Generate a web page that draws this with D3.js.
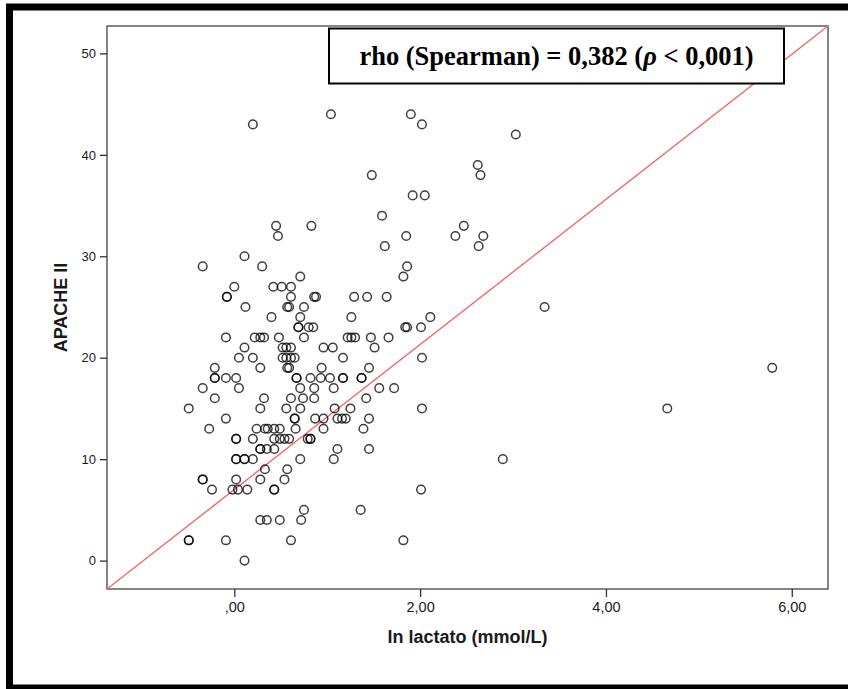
<!DOCTYPE html>
<html>
<head>
<meta charset="utf-8">
<script src="https://cdn.jsdelivr.net/npm/d3@7"></script>
<style>
    body { margin: 0; background: #fff; }
    svg { display: block; }
    .tick text { fill: #1a1a1a; font-family: "Liberation Sans", Arial, sans-serif; }
    .tick line { stroke: #333; stroke-width: 1.3; }
</style>
</head>
<body>
<svg id="chart" width="848" height="689"></svg>
<script>
"use strict"

// APACHE II score (one row per score value) and the ln lactato readings at that score
const apacheII = [44, 43, 42, 39, 38, 36, 34, 33, 32, 31, 30, 29, 28, 27, 26, 25, 24, 23, 22, 21,
                  20, 19, 18, 17, 16, 15, 14, 13, 12, 11, 10, 9, 8, 7, 5, 4, 2, 0]
const lnLactato = [
    [1.04, 1.90],
    [0.20, 2.02],
    [3.03],
    [2.62],
    [1.48, 2.65],
    [1.92, 2.05],
    [1.59],
    [0.45, 0.83, 2.47],
    [0.47, 1.85, 2.38, 2.68],
    [1.62, 2.63],
    [0.11],
    [-0.34, 0.30, 1.86],
    [0.71, 1.82],
    [0.00, 0.42, 0.51, 0.61],
    [-0.08, -0.08, 0.61, 0.86, 0.88, 1.29, 1.43, 1.64],
    [0.12, 0.57, 0.59, 0.75, 3.34],
    [0.40, 0.71, 1.26, 2.11],
    [0.69, 0.69, 0.80, 0.85, 1.84, 1.86, 2.01],
    [-0.09, 0.22, 0.28, 0.32, 0.48, 0.75, 1.22, 1.26, 1.30, 1.47, 1.66],
    [0.11, 0.52, 0.56, 0.61, 0.96, 1.06, 1.51],
    [0.05, 0.20, 0.52, 0.56, 0.61, 0.65, 1.17, 2.02],
    [-0.21, 0.28, 0.57, 0.59, 0.94, 1.45, 5.79],
    [-0.21, -0.21, -0.09, 0.02, 0.67, 0.67, 0.82, 0.93, 1.03, 1.17, 1.17, 1.37, 1.37],
    [-0.34, 0.05, 0.71, 0.86, 1.07, 1.56, 1.72],
    [-0.21, 0.32, 0.61, 0.74, 0.86, 1.42],
    [-0.49, 0.28, 0.56, 0.71, 1.08, 1.25, 2.02, 4.66],
    [-0.09, 0.65, 0.65, 0.87, 0.96, 1.11, 1.16, 1.20, 1.45],
    [-0.27, 0.24, 0.33, 0.36, 0.43, 0.49, 0.66, 0.96, 1.39],
    [0.02, 0.02, 0.20, 0.43, 0.49, 0.54, 0.59, 0.79, 0.82, 0.82],
    [0.28, 0.28, 0.35, 0.43, 1.11, 1.45],
    [0.02, 0.02, 0.11, 0.11, 0.20, 0.71, 1.07, 2.89],
    [0.33, 0.57],
    [-0.34, -0.34, 0.02, 0.28, 0.54],
    [-0.24, -0.02, 0.04, 0.14, 0.43, 0.43, 2.01],
    [0.75, 1.36],
    [0.28, 0.35, 0.49, 0.72],
    [-0.49, -0.49, -0.09, 0.61, 1.82],
    [0.11]
]

const xTicks = [0, 2, 4, 6]
const yTicks = [0, 10, 20, 30, 40, 50]
const xDomain = [-1.37, 6.39]
const yDomain = [-2.8, 52.7]

const xTitle = "ln lactato (mmol/L)"
const yTitle = "APACHE II"
const note = ["rho (Spearman) = 0,382 (", "ρ", " < 0,001)"]

const points = apacheII.flatMap((a, i) => lnLactato[i].map(v => ({ x: v, y: a })))

const svg = d3.select("#chart")
const plot = { left: 107, top: 26, right: 828, bottom: 589 }

const x = d3.scaleLinear().domain(xDomain).range([plot.left, plot.right])
const y = d3.scaleLinear().domain(yDomain).range([plot.bottom, plot.top])

// outer black frame (cropped on the right in the original)
svg.append("rect")
   .attr("x", 9.5).attr("y", 7).attr("width", 870).attr("height", 681)
   .attr("fill", "none").attr("stroke", "#000").attr("stroke-width", 7)

// plot frame
svg.append("rect")
   .attr("x", plot.left).attr("y", plot.top)
   .attr("width", plot.right - plot.left).attr("height", plot.bottom - plot.top)
   .attr("fill", "#fff").attr("stroke", "#444").attr("stroke-width", 1.3)

// axes
const commaFmt = v => v == 0 ? ",00" : d3.format(".2f")(v).replace(".", ",")

const gx = svg.append("g")
   .attr("transform", `translate(0,${plot.bottom})`)
   .call(d3.axisBottom(x).tickValues(xTicks).tickSize(8).tickPadding(5).tickFormat(commaFmt))
gx.select(".domain").remove()
gx.selectAll("text").attr("font-size", 14.5)

const gy = svg.append("g")
   .attr("transform", `translate(${plot.left},0)`)
   .call(d3.axisLeft(y).tickValues(yTicks).tickSize(7).tickPadding(4))
gy.select(".domain").remove()
gy.selectAll("text").attr("font-size", 13)

svg.append("text")
   .attr("x", (plot.left + plot.right) / 2).attr("y", 643)
   .attr("text-anchor", "middle")
   .attr("font-family", "Liberation Sans, Arial, sans-serif")
   .attr("font-weight", "bold").attr("font-size", 18).attr("fill", "#1a1a1a")
   .text(xTitle)

svg.append("text")
   .attr("transform", `translate(67,${(plot.top + plot.bottom) / 2}) rotate(-90)`)
   .attr("text-anchor", "middle")
   .attr("font-family", "Liberation Sans, Arial, sans-serif")
   .attr("font-weight", "bold").attr("font-size", 18).attr("fill", "#1a1a1a")
   .text(yTitle)

// diagonal reference line, corner to corner
svg.append("line")
   .attr("x1", x(xDomain[0])).attr("y1", y(yDomain[0]))
   .attr("x2", x(xDomain[1])).attr("y2", y(yDomain[1]))
   .attr("stroke", "#f06a6a").attr("stroke-width", 1.4)

// points
svg.append("g")
   .selectAll("circle")
   .data(points)
   .join("circle")
   .attr("cx", d => x(d.x)).attr("cy", d => y(d.y))
   .attr("r", 4.3)
   .attr("fill", "none").attr("stroke", "#000")
   .attr("stroke-opacity", 0.75).attr("stroke-width", 1.5)

// annotation box
const box = { x: 329, y: 28.5, w: 455, h: 55 }
svg.append("rect")
   .attr("x", box.x).attr("y", box.y).attr("width", box.w).attr("height", box.h)
   .attr("fill", "#fff").attr("stroke", "#000").attr("stroke-width", 2)

const t = svg.append("text")
   .attr("x", box.x + box.w / 2).attr("y", 65)
   .attr("text-anchor", "middle")
   .attr("font-family", "Liberation Serif, Times New Roman, serif")
   .attr("font-weight", "bold").attr("font-size", 26.5).attr("fill", "#000")
t.append("tspan").text(note[0])
t.append("tspan").attr("font-style", "italic").text(note[1])
t.append("tspan").text(note[2])
</script>
</body>
</html>
